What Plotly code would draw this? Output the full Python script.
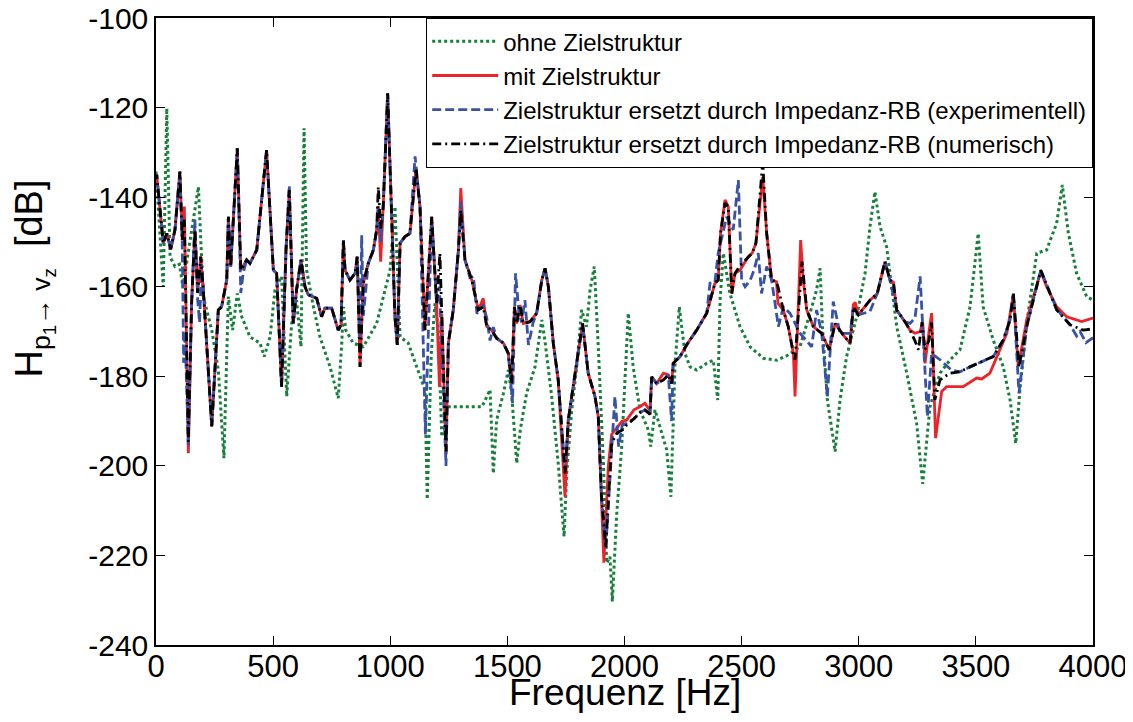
import plotly.graph_objects as go

# ---- data: ohne Zielstruktur (green dotted)
f_ohne = [0, 31, 46, 60, 81, 100, 115, 181, 202, 238, 266, 290, 309, 327, 347, 366, 401, 444, 462, 487,
          508, 536, 558, 579, 600, 619, 632, 643, 672, 700, 743, 778, 793, 800, 810, 842, 885, 942, 999, 1020,
          1042, 1077, 1113, 1148, 1158, 1175, 1191, 1205, 1220, 1234, 1241, 1392, 1426, 1440, 1454, 1483, 1504, 1518, 1540, 1555,
          1582, 1618, 1647, 1660, 1689, 1717, 1742, 1753, 1775, 1796, 1817, 1838, 1853, 1871, 1888, 1910, 1924, 1938, 1948, 1967,
          1988, 2002, 2016, 2037, 2066, 2102, 2112, 2130, 2180, 2198, 2216, 2234, 2258, 2280, 2308, 2351, 2379, 2398, 2408, 2422,
          2450, 2493, 2536, 2593, 2650, 2690, 2706, 2749, 2792, 2820, 2835, 2845, 2866, 2899, 2920, 2948, 2991, 3027, 3048, 3069,
          3091, 3119, 3162, 3205, 3247, 3273, 3304, 3347, 3389, 3432, 3475, 3510, 3531, 3574, 3617, 3646, 3670, 3688, 3717, 3760,
          3802, 3845, 3869, 3895, 3930, 3973, 4000]
db_ohne = [-134.3, -160.0, -120.2, -153.3, -155.5, -155.0, -160.0, -137.7, -162.2, -169.7, -178.6, -198.3, -162.2, -169.7, -161.5, -166.7, -171.2, -172.6, -175.6, -171.2,
           -160.7, -157.7, -184.5, -168.2, -163.0, -173.4, -124.6, -156.3, -164.5, -171.2, -177.9, -184.9, -172.6, -164.5, -169.7, -172.6, -173.4, -168.2, -156.3, -142.1,
           -171.2, -172.6, -177.9, -183.0, -207.5, -175.0, -163.7, -169.7, -193.5, -189.8, -186.8, -186.8, -183.0, -201.7, -189.8, -183.8, -178.6, -183.8, -199.4, -192.0,
           -183.8, -177.9, -167.4, -171.9, -184.5, -199.4, -215.8, -201.7, -187.5, -177.9, -165.2, -168.9, -160.7, -155.5, -173.4, -199.4, -221.7, -220.3, -230.3, -210.6,
           -195.7, -182.3, -165.9, -177.9, -187.5, -192.0, -195.7, -187.5, -196.4, -206.9, -177.1, -164.5, -174.9, -177.9, -178.6, -177.1, -176.4, -185.3, -163.0, -152.5,
           -161.5, -168.9, -173.4, -176.0, -176.4, -175.5, -174.9, -173.4, -165.9, -160.7, -155.9, -168.9, -185.3, -196.8, -185.3, -175.6, -166.7, -157.0, -146.6, -138.8,
           -146.6, -151.1, -168.9, -179.3, -190.5, -204.0, -186.8, -179.3, -176.4, -174.1, -164.5, -148.1, -164.5, -171.9, -177.9, -185.3, -195.0, -183.0, -168.2, -152.5,
           -151.8, -145.8, -137.3, -148.1, -157.0, -162.2, -163.0]

# ---- data: mit Zielstruktur (red solid)
f_mit = [0, 3, 31, 46, 63, 81, 102, 112, 121, 138, 152, 166, 178, 191, 202, 238, 266, 280, 302, 309,
         319, 347, 362, 387, 401, 430, 472, 501, 515, 536, 555, 569, 586, 600, 619, 636, 650, 686, 707, 721,
         750, 778, 790, 800, 807, 828, 850, 859, 871, 885, 906, 928, 942, 949, 959, 970, 989, 1006, 1020, 1030,
         1042, 1063, 1084, 1110, 1127, 1148, 1177, 1198, 1210, 1220, 1238, 1248, 1269, 1291, 1301, 1319, 1348, 1376, 1397, 1412,
         1433, 1454, 1483, 1504, 1518, 1530, 1540, 1554, 1568, 1597, 1625, 1647, 1661, 1675, 1696, 1717, 1746, 1760, 1789, 1803,
         1821, 1845, 1874, 1888, 1902, 1912, 1931, 1945, 1967, 1990, 2009, 2040, 2066, 2087, 2100, 2109, 2116, 2137, 2166, 2187,
         2201, 2208, 2237, 2265, 2308, 2351, 2386, 2400, 2410, 2429, 2443, 2458, 2472, 2493, 2528, 2545, 2561, 2578, 2590, 2607,
         2628, 2649, 2655, 2678, 2699, 2721, 2728, 2752, 2763, 2778, 2806, 2842, 2874, 2899, 2934, 2963, 2977, 2985, 2998, 3048,
         3079, 3112, 3133, 3148, 3162, 3197, 3219, 3240, 3262, 3273, 3283, 3300, 3311, 3328, 3354, 3375, 3389, 3446, 3503, 3525,
         3560, 3603, 3632, 3660, 3681, 3717, 3777, 3802, 3845, 3888, 3952, 4000]
db_mit = [-136.0, -135.0, -150.3, -148.1, -151.6, -147.3, -134.3, -149.6, -142.1, -197.2, -163.7, -147.3, -161.4, -153.3, -160.7, -191.2, -165.2, -164.5, -158.5, -144.4,
          -155.5, -129.1, -156.3, -154.0, -154.8, -151.8, -129.5, -156.3, -157.0, -182.3, -151.8, -138.4, -168.2, -160.7, -154.0, -160.0, -161.8, -162.6, -166.7, -164.8,
          -164.8, -169.7, -168.5, -149.6, -156.3, -158.5, -157.0, -153.3, -177.9, -159.2, -154.8, -151.8, -147.3, -142.0, -154.4, -142.1, -116.8, -145.8, -166.7, -173.0,
          -150.3, -148.8, -148.1, -133.6, -142.1, -169.7, -144.4, -163.7, -182.3, -166.0, -196.8, -172.6, -165.2, -151.8, -138.0, -154.0, -158.5, -165.2, -162.6, -168.9,
          -169.7, -171.5, -172.6, -174.9, -181.6, -164.5, -168.2, -164.1, -168.2, -167.8, -165.9, -158.5, -155.9, -160.0, -172.6, -180.8, -206.9, -189.8, -179.3, -174.1,
          -168.2, -179.3, -184.5, -189.0, -206.9, -221.6, -200.0, -193.0, -191.5, -190.0, -189.8, -187.5, -186.8, -186.0, -187.0, -187.9, -180.1, -181.6, -179.3, -179.7,
          -181.6, -177.1, -175.6, -173.0, -169.7, -165.9, -159.2, -158.5, -148.1, -140.6, -142.1, -161.5, -157.0, -156.3, -153.3, -152.5, -150.3, -140.6, -135.5, -148.1,
          -158.5, -158.9, -163.7, -165.2, -168.9, -174.9, -184.5, -149.6, -158.5, -165.2, -168.9, -170.4, -174.1, -168.2, -170.8, -172.6, -164.0, -163.5, -166.3, -163.0,
          -161.5, -154.4, -158.5, -159.0, -165.2, -167.8, -169.7, -170.4, -170.0, -168.0, -177.1, -170.0, -165.9, -193.8, -183.4, -182.3, -182.3, -182.3, -180.4, -180.6,
          -179.3, -174.1, -170.4, -161.8, -177.9, -167.4, -156.6, -160.0, -164.5, -166.7, -167.8, -167.0]

# ---- data: Impedanz-RB (experimentell) (blue dashed)
f_exp = [0, 3, 31, 46, 63, 81, 102, 112, 118, 124, 138, 152, 166, 178, 186, 195, 205, 238, 266, 280,
         302, 309, 319, 347, 362, 372, 387, 401, 430, 472, 501, 515, 536, 555, 569, 586, 600, 619, 636, 650,
         686, 707, 721, 750, 778, 790, 800, 807, 828, 850, 859, 871, 878, 885, 906, 928, 942, 949, 959, 970,
         989, 1006, 1020, 1030, 1042, 1063, 1084, 1106, 1127, 1150, 1160, 1177, 1198, 1210, 1238, 1248, 1269, 1291, 1301, 1319,
         1340, 1355, 1370, 1397, 1412, 1426, 1440, 1454, 1483, 1504, 1522, 1535, 1548, 1560, 1575, 1590, 1610, 1625, 1647, 1661,
         1675, 1696, 1717, 1746, 1760, 1789, 1803, 1821, 1845, 1874, 1888, 1902, 1920, 1940, 1959, 1975, 1990, 2009, 2040, 2066,
         2087, 2109, 2116, 2137, 2166, 2187, 2201, 2208, 2237, 2265, 2308, 2351, 2365, 2386, 2400, 2436, 2464, 2486, 2500, 2515,
         2537, 2555, 2571, 2585, 2607, 2628, 2657, 2678, 2706, 2721, 2749, 2799, 2820, 2842, 2866, 2891, 2920, 2963, 2977, 2998,
         3048, 3079, 3112, 3133, 3162, 3197, 3219, 3240, 3262, 3280, 3293, 3311, 3347, 3396, 3432, 3475, 3574, 3617, 3646, 3660,
         3684, 3717, 3777, 3845, 3902, 3930, 3945, 3970, 4000]
db_exp = [-136.0, -135.0, -150.3, -148.1, -151.6, -147.3, -134.3, -149.6, -177.0, -170.0, -195.5, -163.7, -145.0, -163.0, -168.0, -155.0, -163.0, -191.2, -165.2, -164.5,
          -158.5, -144.4, -155.5, -129.1, -161.4, -157.0, -154.0, -154.8, -151.8, -129.5, -156.3, -157.0, -182.3, -151.8, -137.4, -168.2, -160.7, -154.0, -160.0, -161.8,
          -162.6, -166.7, -164.8, -164.8, -169.7, -168.5, -149.6, -156.3, -158.5, -157.0, -153.3, -172.0, -148.5, -166.5, -154.8, -151.8, -147.3, -142.0, -150.0, -142.1,
          -116.8, -145.8, -166.7, -173.0, -150.3, -148.8, -148.1, -130.9, -142.1, -193.0, -175.0, -144.4, -163.7, -160.0, -200.0, -172.6, -165.2, -151.8, -141.0, -154.0,
          -158.0, -157.7, -166.0, -164.0, -167.0, -172.0, -169.0, -171.5, -172.6, -174.9, -186.0, -157.0, -165.0, -168.0, -163.0, -173.0, -168.0, -165.9, -158.5, -155.9,
          -160.0, -172.6, -180.8, -201.0, -189.8, -179.3, -174.1, -168.2, -179.3, -184.5, -189.0, -206.9, -218.4, -200.0, -184.5, -195.7, -191.0, -190.5, -189.5, -188.1,
          -187.5, -188.5, -180.1, -181.6, -180.8, -179.7, -190.0, -177.1, -175.6, -173.0, -169.7, -165.9, -159.2, -159.0, -152.5, -144.4, -147.3, -136.2, -158.5, -160.0,
          -158.5, -156.0, -152.5, -161.5, -155.5, -158.5, -168.9, -164.5, -165.9, -167.4, -170.4, -173.4, -165.2, -170.4, -184.5, -163.3, -170.4, -170.4, -165.0, -166.3,
          -165.5, -161.5, -154.4, -158.5, -165.2, -167.8, -168.2, -167.0, -157.7, -176.0, -189.0, -174.9, -176.3, -178.6, -179.0, -177.9, -175.6, -171.9, -167.4, -161.5,
          -183.8, -168.9, -156.3, -165.0, -168.5, -171.0, -170.0, -172.5, -171.4]

# ---- data: Impedanz-RB (numerisch) (black dash-dot)
f_num = [0, 3, 31, 46, 63, 81, 102, 112, 121, 138, 152, 166, 178, 191, 202, 238, 266, 280, 302, 309,
         319, 347, 362, 387, 401, 430, 472, 501, 515, 536, 555, 569, 586, 600, 619, 636, 650, 686, 707, 721,
         750, 778, 790, 800, 807, 828, 850, 859, 871, 885, 906, 928, 942, 949, 959, 970, 989, 1006, 1020, 1030,
         1042, 1063, 1084, 1110, 1127, 1148, 1177, 1198, 1212, 1238, 1248, 1269, 1291, 1301, 1319, 1348, 1376, 1397, 1412, 1433,
         1454, 1483, 1504, 1518, 1530, 1540, 1554, 1568, 1597, 1625, 1647, 1661, 1675, 1696, 1717, 1746, 1760, 1789, 1803, 1821,
         1845, 1874, 1888, 1902, 1920, 1931, 1945, 1967, 1990, 2009, 2040, 2066, 2087, 2109, 2116, 2137, 2166, 2187, 2201, 2208,
         2237, 2265, 2308, 2351, 2386, 2400, 2410, 2429, 2443, 2458, 2472, 2493, 2528, 2545, 2561, 2578, 2590, 2607, 2628, 2649,
         2655, 2678, 2699, 2721, 2728, 2758, 2778, 2806, 2842, 2874, 2899, 2934, 2963, 2977, 2998, 3048, 3079, 3112, 3133, 3148,
         3162, 3197, 3219, 3240, 3255, 3270, 3283, 3300, 3311, 3325, 3347, 3389, 3432, 3475, 3574, 3617, 3646, 3660, 3684, 3717,
         3777, 3845, 3902, 3959, 4000]
db_num = [-136.0, -135.0, -150.3, -148.1, -151.6, -147.3, -134.3, -149.6, -145.0, -194.6, -163.7, -147.3, -161.4, -153.3, -160.7, -191.2, -165.2, -164.5, -158.5, -144.4,
          -155.5, -129.1, -156.3, -154.0, -154.8, -151.8, -129.5, -156.3, -157.0, -182.3, -151.8, -138.4, -168.2, -160.7, -154.0, -160.0, -161.8, -162.6, -166.7, -164.8,
          -164.8, -169.7, -168.5, -149.6, -156.3, -158.5, -157.0, -153.3, -177.9, -159.2, -154.8, -151.8, -147.3, -137.7, -147.0, -142.1, -116.8, -145.8, -166.7, -173.0,
          -150.3, -148.8, -148.1, -133.6, -142.1, -169.7, -144.4, -163.7, -152.5, -196.8, -172.6, -165.2, -151.8, -142.9, -154.0, -158.5, -165.2, -164.5, -168.9, -169.7,
          -171.5, -172.6, -174.9, -181.6, -164.5, -168.2, -164.1, -168.2, -167.8, -165.9, -158.5, -155.9, -160.0, -172.6, -180.8, -201.7, -189.8, -179.3, -174.1, -168.2,
          -179.3, -184.5, -189.0, -206.9, -218.4, -207.0, -195.0, -192.7, -192.0, -190.9, -189.5, -188.1, -187.5, -188.5, -180.1, -181.6, -180.8, -179.7, -181.6, -177.1,
          -175.6, -173.0, -169.7, -165.9, -159.2, -158.5, -148.1, -141.3, -142.1, -161.5, -157.0, -155.3, -153.3, -152.5, -150.3, -140.6, -132.2, -148.1, -158.5, -158.9,
          -160.0, -165.2, -168.9, -174.9, -176.3, -154.4, -165.2, -168.9, -170.4, -174.1, -168.2, -170.8, -172.6, -164.5, -166.3, -163.0, -161.5, -154.4, -158.5, -159.0,
          -165.2, -167.8, -169.7, -172.1, -174.1, -167.9, -174.0, -172.0, -168.0, -185.3, -180.8, -179.3, -179.0, -177.9, -175.6, -171.9, -167.4, -161.5, -177.9, -168.9,
          -156.3, -165.2, -168.5, -169.7, -169.4]

names = ["ohne Zielstruktur", "mit Zielstruktur",
         "Zielstruktur ersetzt durch Impedanz-RB (experimentell)",
         "Zielstruktur ersetzt durch Impedanz-RB (numerisch)"]

x_ticks = [0, 500, 1000, 1500, 2000, 2500, 3000, 3500, 4000]
y_ticks = [-240, -220, -200, -180, -160, -140, -120, -100]
y_tick_labels = ["-240", "-220", "-200", "-180", "-160", "-140", "-120", "-100"]

for a, b in [(f_ohne, db_ohne), (f_mit, db_mit), (f_exp, db_exp), (f_num, db_num)]:
    assert len(a) == len(b), (len(a), len(b))

FONT = "Liberation Sans, Arial, Helvetica, sans-serif"

fig = go.Figure()
fig.add_trace(go.Scatter(x=f_ohne, y=db_ohne, mode="lines", name=names[0],
                         line=dict(color="#17803a", width=3, dash="3px,3px")))
fig.add_trace(go.Scatter(x=f_mit, y=db_mit, mode="lines", name=names[1],
                         line=dict(color="#ee2229", width=2.8)))
fig.add_trace(go.Scatter(x=f_exp, y=db_exp, mode="lines", name=names[2],
                         line=dict(color="#3752a6", width=2.8, dash="9px,4px")))
fig.add_trace(go.Scatter(x=f_num, y=db_num, mode="lines", name=names[3],
                         line=dict(color="#000000", width=2.8, dash="9px,4px,2px,4px")))

axis_common = dict(showline=True, linecolor="black", linewidth=1.5, mirror="ticks",
                   ticks="inside", ticklen=9, tickcolor="black", tickwidth=1.2,
                   showgrid=False, zeroline=False, automargin=False,
                   ticklabeloverflow="allow")

# the page body adds an 8px margin, so the figure is 8px smaller than the window
fig.update_layout(
    width=1125, height=714,
    margin=dict(l=148, r=40, t=10, b=77),
    paper_bgcolor="white", plot_bgcolor="white",
    font=dict(family=FONT, color="black"),
    xaxis=dict(range=[0, 4000], tickvals=x_ticks, ticklabelstandoff=-7,
               tickfont=dict(family=FONT, size=31, color="black"), **axis_common),
    yaxis=dict(range=[-240, -100], tickvals=y_ticks, ticktext=y_tick_labels, ticklabelstandoff=0,
               tickfont=dict(family=FONT, size=30, color="black"), **axis_common),
    legend=dict(x=1, y=1, xanchor="right", yanchor="top", bgcolor="white",
                bordercolor="black", borderwidth=1.2,
                font=dict(family=FONT, size=24, color="black"),
                itemwidth=66, tracegroupgap=0),
    showlegend=True,
    annotations=[
        dict(text="Frequenz [Hz]", x=0.5, y=-0.040, xref="paper", yref="paper",
             xanchor="center", yanchor="top", showarrow=False,
             font=dict(family=FONT, size=37, color="black")),
        dict(text="H<sub>p<sub>1</sub>→ v<sub>z</sub></sub>  [dB]", x=-0.130, y=0.585,
             xref="paper", yref="paper", xanchor="center", yanchor="middle",
             textangle=-90, showarrow=False,
             font=dict(family=FONT, size=38, color="black")),
    ],
)

fig.write_html("out.html")
